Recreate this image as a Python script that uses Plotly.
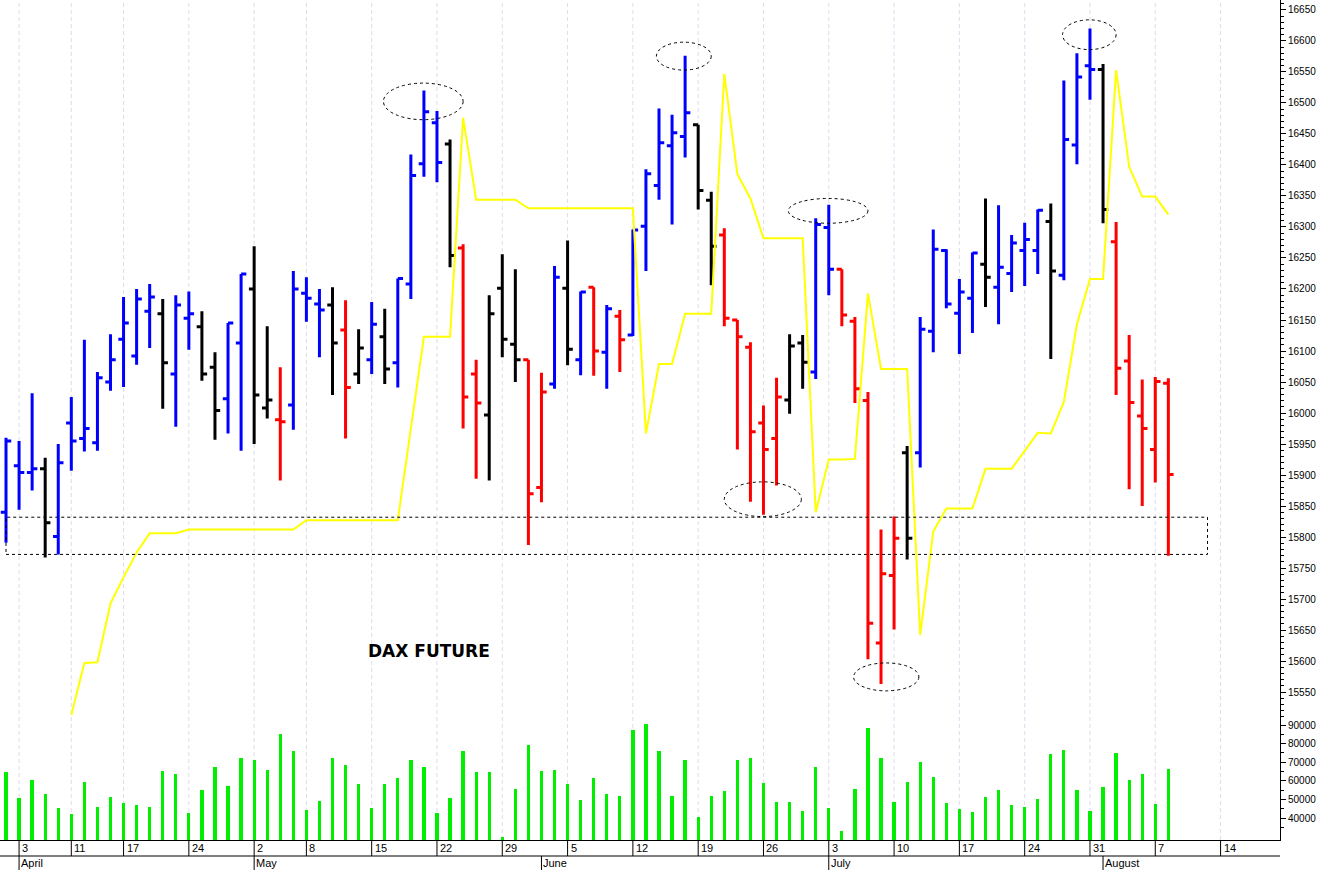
import pandas as pd
import plotly.graph_objects as go

# ---- data ----
holidays = ["2023-04-07", "2023-04-10", "2023-05-01"]
dates = [d for d in pd.bdate_range("2023-03-31", "2023-08-08") if d.strftime("%Y-%m-%d") not in holidays]

opens = [15840,15915,15904,15910,15801,15984,15959,15952,16050,16119,16092,16164,16160,16063,16153,16139,16074,16023,16113,16200,
         16008,15989,16013,16193,16176,16174,16134,16063,16086,16123,16081,16208,16402,16468,16434,16266,16063,15997,16201,16111,
         16086,15880,16047,16201,16086,16203,16098,16156,16126,16301,16367,16431,16446,16465,16343,16287,16150,16106,15984,15959,
         16021,16113,16066,16299,16232,16148,16020,15629,15738,15936,15936,16132,16262,16161,16185,16240,16203,16225,16262,16262,
         16309,16222,16432,16560,16554,16276,16084,15995,15941,16048]
highs = [15960,15955,16032,15928,15950,16026,16118,16066,16127,16187,16200,16208,16184,16190,16196,16164,16098,16145,16224,16269,
         16140,16074,16229,16219,16200,16203,16182,16135,16179,16168,16217,16417,16520,16487,16441,16272,16086,16190,16256,16232,
         16086,16065,16237,16278,16196,16203,16174,16166,16296,16393,16491,16481,16576,16465,16357,16298,16150,16114,16012,16057,
         16127,16126,16314,16336,16232,16155,16034,15812,15833,15947,16155,16296,16264,16216,16259,16346,16335,16287,16307,16328,
         16338,16536,16580,16620,16563,16308,16126,16054,16058,16056]
lows = [15791,15844,15875,15767,15772,15907,15938,15939,16036,16042,16078,16105,16007,15978,16102,16052,15957,15967,15939,15950,
        15991,15891,15973,16147,16090,16029,15959,16047,16063,16047,16041,16184,16381,16372,16235,15975,15894,15891,16090,16050,
        15787,15856,16039,16077,16061,16060,16039,16066,16124,16229,16344,16304,16412,16328,16206,16140,15941,15857,15836,15883,
        15999,16039,16055,16190,16140,16016,15603,15563,15651,15764,15912,16098,16169,16095,16129,16171,16143,16195,16205,16224,
        16087,16214,16401,16505,16306,16029,15877,15850,15888,15770]
closes = [15955,15904,15910,15823,15920,15955,15975,16057,16086,16145,16184,16187,16081,16174,16160,16063,16004,16145,16224,16029,
          16021,15986,16200,16185,16166,16113,16041,16105,16143,16071,16217,16383,16486,16404,16254,16026,16016,16160,16119,16086,
          15870,16034,16219,16103,16195,16100,16168,16118,16295,16386,16436,16452,16484,16359,16269,16153,16123,15970,15941,16026,
          16108,16082,16304,16232,16158,16039,15661,15741,15798,15798,16135,16264,16176,16195,16258,16219,16235,16274,16280,16327,
          16229,16441,16542,16554,16328,16072,16017,15975,16051,15901]
bar_colors = list("bbbkbbbbbbbbkbbkkbbkkrbbbkrkbkbbbbkrrkkkrrbkbrbrbbbbbkkrrrrrkkbbrrrrrkbbbbbkbbbbkbbbkrrrrr")

yellow = [None]*5 + [15513,15597,15598,15693,15735,15775,15806,15806,15806] + [15812]*9 + [15827]*8 + \
         [15975,16123,16123,16123,16476,16344,16344,16344,16344] + [16330]*9 + \
         [15967,16079,16079,16160,16160,16160,16547,16385,16346,16282,16282,16282,16282,15840,15925,15925,15926,
          16193,16071,16071,16071,15642,15809,15846,15846,15846,15910,15910,15910,15939,15968,15967,16018,16143,
          16216,16216,16553,16397,16349,16349,16320]

volume = [64600,50900,60400,53000,45300,42100,59300,45900,51400,47900,47100,45900,65200,63400,42700,55200,67500,57100,72300,71200,
          65900,85200,75900,44500,49100,72100,68600,58200,45300,58200,61400,71200,67500,42700,50700,75900,64600,64600,29800,55700,
          79300,65200,65900,58200,49800,61400,52900,52000,87300,90500,75900,51800,71100,40500,51800,54600,71100,72100,58700,48600,
          48400,43900,67500,45300,33000,55700,88200,72100,48400,59300,70000,61800,48000,44800,43200,51400,55000,46800,45900,50400,
          74500,76800,54800,43700,56600,75200,60400,63400,47500,66400]

tick_dates = ["2023-04-03","2023-04-11","2023-04-17","2023-04-24","2023-05-02","2023-05-08","2023-05-15","2023-05-22",
              "2023-05-29","2023-06-05","2023-06-12","2023-06-19","2023-06-26","2023-07-03","2023-07-10","2023-07-17",
              "2023-07-24","2023-07-31","2023-08-07"]
tick_labels = ["3","11","17","24","2","8","15","22","29","5","12","19","26","3","10","17","24","31","7","14"]
month_starts = ["2023-04-03","2023-05-02","2023-06-01","2023-07-03","2023-08-01"]
month_labels = ["April","May","June","July","August"]
vol_ticks = [40000, 50000, 60000, 70000, 80000, 90000]

# ellipses (index, price) and support box
ellipses = [(28.9,35.0,16473,16532),(49.8,54.0,16553,16598),(59.9,66.0,16306,16346),
            (55.0,60.9,15833,15889),(80.9,85.0,16586,16634),(64.9,69.9,15552,15597)]
box = (0, 92.0, 15772, 15832)

# ---- build ----
date_str = [d.strftime("%Y-%m-%d") for d in dates]
idx = list(range(len(dates)))
tick_pos = [date_str.index(t) for t in tick_dates] + [len(dates) + 3]  # Aug 14 (future)
month_pos = [date_str.index(m) for m in month_starts]

fig = go.Figure()
cmap = {"b": "#0000ff", "k": "#000000", "r": "#ff0000"}
for code, col in cmap.items():
    sel = [i for i in idx if bar_colors[i] == code]
    fig.add_trace(go.Ohlc(
        x=sel, open=[opens[i] for i in sel], high=[highs[i] for i in sel],
        low=[lows[i] for i in sel], close=[closes[i] for i in sel],
        increasing=dict(line=dict(color=col, width=3)),
        decreasing=dict(line=dict(color=col, width=3)),
        tickwidth=0.4, xaxis="x", yaxis="y", hoverinfo="skip", showlegend=False))

fig.add_trace(go.Scatter(x=idx, y=yellow, mode="lines", line=dict(color="#ffff00", width=2),
                         yaxis="y", hoverinfo="skip", showlegend=False))
fig.add_trace(go.Bar(x=idx, y=volume, marker=dict(color="#00ee00", line_width=0), width=0.25,
                     yaxis="y2", hoverinfo="skip", showlegend=False))

shapes = []
for t in tick_pos:
    shapes.append(dict(type="line", xref="x", yref="paper", x0=t, x1=t, y0=0, y1=1,
                       line=dict(color="#dcdcf0", width=1, dash="4px,3px"), layer="below"))
for (x0, x1, y0, y1) in ellipses:
    shapes.append(dict(type="circle", xref="x", yref="y", x0=x0, x1=x1, y0=y0, y1=y1,
                       line=dict(color="black", width=1, dash="dot")))
shapes.append(dict(type="rect", xref="x", yref="y", x0=box[0], x1=box[1], y0=box[2], y1=box[3],
                   line=dict(color="black", width=1, dash="dot")))
H = 840.0
shapes.append(dict(type="line", xref="paper", yref="paper", x0=0, x1=1, y0=-16/H, y1=-16/H,
                   line=dict(color="black", width=1)))
for t in tick_pos:
    shapes.append(dict(type="line", xref="x", yref="paper", x0=t, x1=t, y0=-16/H, y1=0,
                       line=dict(color="black", width=1)))
for m in month_pos:
    shapes.append(dict(type="line", xref="x", yref="paper", x0=m, x1=m, y0=-30/H, y1=-16/H,
                       line=dict(color="black", width=1)))

ann = []
for t, lab in zip(tick_pos, tick_labels):
    ann.append(dict(x=t, y=-8/H, xref="x", yref="paper", text=lab, showarrow=False, xanchor="left",
                    xshift=1, yanchor="middle", font=dict(size=11, color="black")))
for m, lab in zip(month_pos, month_labels):
    ann.append(dict(x=m, y=-23/H, xref="x", yref="paper", text=lab, showarrow=False, xanchor="left",
                    xshift=0, yanchor="middle", font=dict(size=11, color="black")))
ann.append(dict(x=32.4, y=15616, xref="x", yref="y", text="<b>DAX FUTURE</b>", showarrow=False,
                font=dict(size=17, color="black", family="DejaVu Sans, Verdana, sans-serif")))

fig.update_layout(
    width=1328, height=870, margin=dict(l=0, r=48, t=0, b=30),
    paper_bgcolor="white", plot_bgcolor="white",
    font=dict(family="Liberation Sans, Arial, sans-serif", size=11, color="black"),
    shapes=shapes, annotations=ann, bargap=0,
    xaxis=dict(range=[-0.46, 97.55], showticklabels=False, showgrid=False, zeroline=False,
               rangeslider=dict(visible=False), anchor="y2", showline=True, linecolor="black", linewidth=1,
               ticks=""),
    yaxis=dict(domain=[120/H, 1], range=[15505, 16666], side="right", dtick=50, tick0=0,
               tickformat="d", showgrid=False, zeroline=False, showline=True, linecolor="black", linewidth=1,
               ticks="outside", ticklen=5, tickcolor="black", tickfont=dict(size=10),
               minor=dict(dtick=10, ticklen=3, tickcolor="black", ticks="outside", showgrid=False)),
    yaxis2=dict(domain=[0, 120/H], range=[28180, 92690], side="right",
                tickvals=vol_ticks, ticktext=[str(v) for v in vol_ticks], tickfont=dict(size=10),
                showgrid=False, zeroline=False, showline=True, linecolor="black", linewidth=1,
                ticks="outside", ticklen=5, tickcolor="black",
                minor=dict(tickvals=[v - 5000 for v in vol_ticks], ticklen=3, tickcolor="black",
                           ticks="outside", showgrid=False)),
)
fig.write_html("out.html", config={"displayModeBar": False})
with open("out.html", encoding="utf-8") as f:
    page = f.read()
page = page.replace("<body>", '<body style="margin:0">', 1)
with open("out.html", "w", encoding="utf-8") as f:
    f.write(page)
